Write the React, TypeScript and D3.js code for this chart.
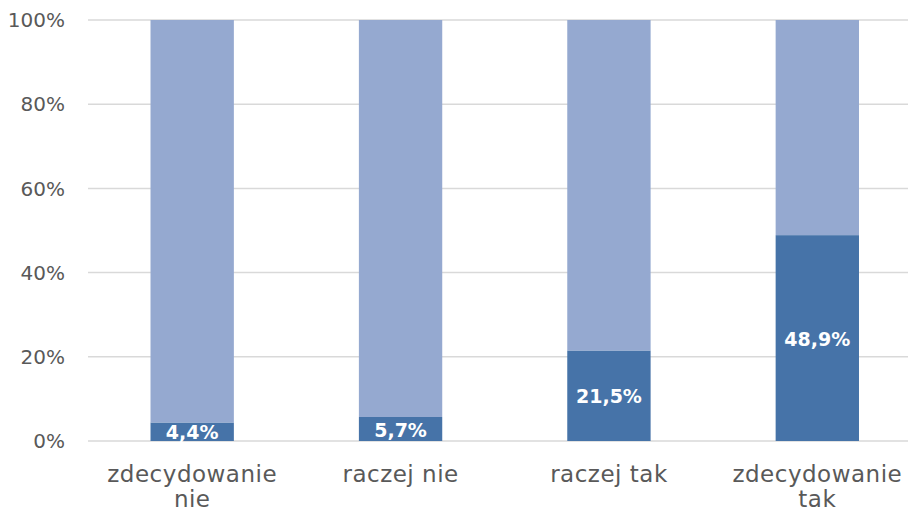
import React, { useEffect, useRef } from "react";
import * as d3 from "d3";

const categories = ["zdecydowanie nie", "raczej nie", "raczej tak", "zdecydowanie tak"];
const categoryLines = [["zdecydowanie", "nie"], ["raczej nie"], ["raczej tak"], ["zdecydowanie", "tak"]];
const yesValues = [4.4, 5.7, 21.5, 48.9];
const restValues = yesValues.map((v) => 100 - v);
const yTicks = [0, 20, 40, 60, 80, 100];

const App = () => {
  const width = 908;
  const height = 511;
  const marginLeft = 88;
  const plotRight = 921.5;
  const marginTop = 20;
  const plotBottom = 441;
  const svgRef = useRef<SVGSVGElement>(null);

  useEffect(() => {
    if (!svgRef.current) return;
    const svg = d3.select(svgRef.current);
    svg.selectAll("*").remove();

    const font = "'DejaVu Sans', sans-serif";

    const x = d3
      .scaleBand()
      .domain(categories)
      .range([marginLeft, plotRight])
      .paddingInner(0.6)
      .paddingOuter(0.3);

    const y = d3.scaleLinear().domain([0, 100]).range([plotBottom, marginTop]);

    // gridlines
    svg
      .append("g")
      .selectAll("line")
      .data(yTicks)
      .join("line")
      .attr("x1", marginLeft)
      .attr("x2", plotRight)
      .attr("y1", (d) => y(d))
      .attr("y2", (d) => y(d))
      .attr("stroke", "#d9d9d9")
      .attr("stroke-width", 1.5);

    // y tick labels
    svg
      .append("g")
      .selectAll("text")
      .data(yTicks)
      .join("text")
      .attr("x", 65)
      .attr("y", (d) => y(d))
      .attr("dy", "0.36em")
      .attr("text-anchor", "end")
      .attr("fill", "#595959")
      .style("font-family", font)
      .style("font-size", "20px")
      .text((d) => `${d}%`);

    const stack = categories.map((c, i) => ({ cat: c, yes: yesValues[i], rest: restValues[i] }));

    // bottom segment
    svg
      .append("g")
      .selectAll("rect")
      .data(stack)
      .join("rect")
      .attr("x", (d) => x(d.cat)!)
      .attr("width", x.bandwidth())
      .attr("y", (d) => y(d.yes))
      .attr("height", (d) => y(0) - y(d.yes))
      .attr("fill", "#4673a8");

    // top segment
    svg
      .append("g")
      .selectAll("rect")
      .data(stack)
      .join("rect")
      .attr("x", (d) => x(d.cat)!)
      .attr("width", x.bandwidth())
      .attr("y", (d) => y(d.yes + d.rest))
      .attr("height", (d) => y(d.yes) - y(d.yes + d.rest))
      .attr("fill", "#95a9d0");

    // value labels
    svg
      .append("g")
      .selectAll("text")
      .data(stack)
      .join("text")
      .attr("x", (d) => x(d.cat)! + x.bandwidth() / 2)
      .attr("y", (d) => y(d.yes / 2))
      .attr("dy", "0.4em")
      .attr("text-anchor", "middle")
      .attr("fill", "white")
      .style("font-family", font)
      .style("font-size", "19px")
      .style("font-weight", "bold")
      .text((d) => `${d.yes.toFixed(1).replace(".", ",")}%`);

    // category labels
    const cats = svg
      .append("g")
      .selectAll("text")
      .data(categories)
      .join("text")
      .attr("x", (d) => x(d)! + x.bandwidth() / 2)
      .attr("y", 482)
      .attr("text-anchor", "middle")
      .attr("fill", "#595959")
      .style("font-family", font)
      .style("font-size", "23px")
      .style("letter-spacing", "0.5px");

    cats
      .selectAll("tspan")
      .data((d, i) => categoryLines[i])
      .join("tspan")
      .attr("x", function () {
        return (this.parentNode as SVGTextElement).getAttribute("x");
      })
      .attr("dy", (d, i) => (i === 0 ? 0 : 25))
      .text((d) => d);
  }, []);

  return (
    <div>
      <svg
        ref={svgRef}
        width={width}
        height={height}
        style={{ position: "absolute", left: 0, top: 0, background: "white" }}
      ></svg>
    </div>
  );
};

export default App;
